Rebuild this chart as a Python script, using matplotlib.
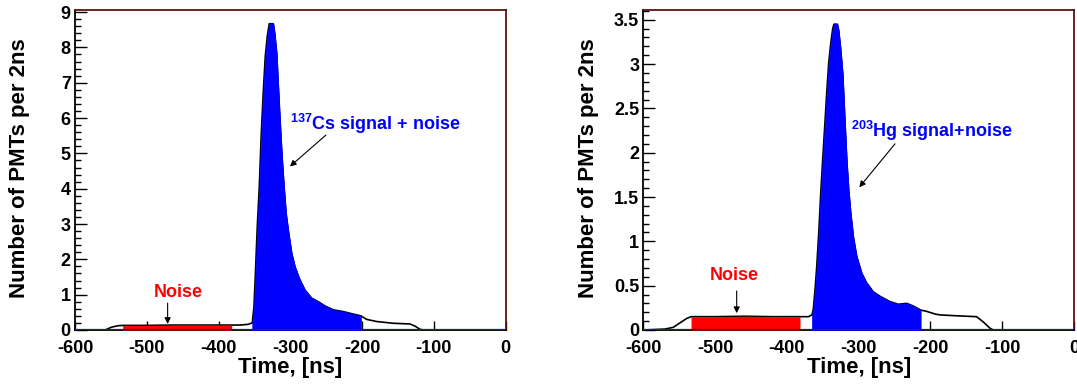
import numpy as np
import matplotlib.pyplot as plt
from matplotlib.ticker import MultipleLocator, FormatStrFormatter

plt.rcParams['font.family'] = ['Liberation Sans', 'DejaVu Sans']
plt.rcParams['font.weight'] = 'bold'
plt.rcParams['axes.unicode_minus'] = False
plt.rcParams['mathtext.fontset'] = 'custom'
plt.rcParams['mathtext.rm'] = 'Liberation Sans:bold'
plt.rcParams['mathtext.it'] = 'Liberation Sans:bold'
plt.rcParams['mathtext.bf'] = 'Liberation Sans:bold'

# 137Cs run: time [ns] vs number of PMTs per 2 ns
cs_time = np.array([-600, -558, -549, -540, -533.5, -500, -460, -420, -381.7, -370,
                    -358.6, -353.0, -350.6, -348.8, -346.0, -343.2, -340.4, -337.7,
                    -334.9, -332.1, -329.3, -323.7, -321.8, -319.0, -317.2, -314.4,
                    -311.6, -308.8, -306.0, -302.3, -298.1, -293.5, -287.5, -279.6,
                    -270.2, -261.0, -251.7, -240.1, -226.2, -212.3, -201.6, -193.7,
                    -179.7, -156.6, -133.3, -126.3, -119.4, -114.8, 0])
cs_count = np.array([0, 0, 0.08, 0.12, 0.13, 0.13, 0.14, 0.14, 0.14, 0.14,
                     0.16, 0.2, 0.66, 1.51, 2.93, 4.06, 5.57, 6.71,
                     7.74, 8.31, 8.67, 8.67, 8.40, 7.84, 7.08, 5.95,
                     4.91, 4.06, 3.31, 2.74, 2.17, 1.79, 1.46, 1.13,
                     0.90, 0.80, 0.68, 0.57, 0.52, 0.45, 0.40, 0.30,
                     0.24, 0.19, 0.17, 0.11, 0.02, 0, 0])

# 203Hg run
hg_time = np.array([-600, -570, -558.2, -548.9, -539.5, -533.5, -500, -460, -420, -381.7,
                    -370, -365.0, -363.2, -360.8, -358.4, -355.6, -352.8, -350.1,
                    -347.3, -344.5, -341.7, -338.9, -336.1, -334.3, -329.7, -327.8,
                    -325.0, -322.2, -319.4, -316.6, -313.9, -311.1, -307.4, -302.7,
                    -295.7, -288.8, -279.5, -270.2, -256.3, -244.8, -233.0, -223.8,
                    -213.6, -205.2, -193.6, -186.7, -163.4, -135.6, -126.3, -117.0,
                    -112.4, 0])
hg_count = np.array([0, 0.01, 0.03, 0.08, 0.13, 0.15, 0.15, 0.155, 0.15, 0.15,
                     0.15, 0.17, 0.23, 0.45, 0.71, 1.09, 1.54, 1.92,
                     2.29, 2.67, 3.01, 3.23, 3.40, 3.45, 3.45, 3.38,
                     3.16, 2.89, 2.40, 1.92, 1.58, 1.32, 1.05, 0.83,
                     0.64, 0.53, 0.43, 0.38, 0.32, 0.29, 0.30, 0.27,
                     0.225, 0.21, 0.18, 0.17, 0.16, 0.15, 0.09, 0.02,
                     0, 0])

noise_win = (-533.5, -381.7)
cs_signal_win = (-353.0, -201.6)
hg_signal_win = (-365.0, -213.6)

fig = plt.figure(figsize=(10.77, 3.85), dpi=100)
ax1 = fig.add_axes([0.0696, 0.1429, 0.3999, 0.8312])
ax2 = fig.add_axes([0.5973, 0.1429, 0.3999, 0.8312])


def draw_panel(ax, t, n, sig_win, ymax, ymajor, yminor):
    ax.plot(t, n, color='black', lw=1.2, zorder=2)
    m = (t >= noise_win[0]) & (t <= noise_win[1])
    ax.fill_between(t, 0, n, where=m, color='#ff0000', lw=0, zorder=3)
    m = (t >= sig_win[0]) & (t <= sig_win[1])
    ax.fill_between(t, 0, n, where=m, color='#0000ff', lw=0.5, edgecolor='#0000ff', zorder=3)
    ax.axhline(0, color='#1a1aa0', lw=1.6, zorder=4)

    ax.set_xlim(-600, 0)
    ax.set_ylim(0, ymax)
    ax.xaxis.set_major_locator(MultipleLocator(100))
    ax.yaxis.set_major_locator(MultipleLocator(ymajor))
    ax.yaxis.set_minor_locator(MultipleLocator(yminor))
    ax.yaxis.set_major_formatter(FormatStrFormatter('%g'))
    ax.tick_params(axis='x', direction='in', length=6.7, width=1, pad=7,
                   labelsize=13, top=False)
    ax.tick_params(axis='y', which='major', direction='in', length=8.4, width=1,
                   pad=3, labelsize=13, right=False)
    ax.tick_params(axis='y', which='minor', direction='in', length=4.3, width=1,
                   right=False)
    for lab in ax.get_xticklabels():
        lab.set_fontweight('bold')
    for lab in ax.get_yticklabels():
        lab.set_fontweight('bold')
        lab.set_verticalalignment('center_baseline')
    for s in ['left', 'bottom']:
        ax.spines[s].set_color('black')
        ax.spines[s].set_linewidth(1.3)
    for s in ['top', 'right']:
        ax.spines[s].set_color('#5a1414')
        ax.spines[s].set_linewidth(1.3)

    ax.set_xlabel('Time, [ns]', fontsize=16, fontweight='bold', labelpad=0)
    ax.set_ylabel('Number of PMTs per 2ns', fontsize=16, fontweight='bold')
    ax.yaxis.set_label_coords(-0.104, 0.505)


def arrow(ax, start, end):
    ax.annotate('', xy=end, xytext=start,
                arrowprops=dict(arrowstyle='-|>', color='black', lw=0.8,
                                mutation_scale=9, shrinkA=0, shrinkB=0),
                zorder=5)


draw_panel(ax1, cs_time, cs_count, cs_signal_win, 9.06, 1, 0.2)
ax1.text(-456, 1.06, 'Noise', color='#ff0000', fontsize=13, fontweight='bold',
         ha='center', va='center')
arrow(ax1, (-470.9, 0.76), (-470.9, 0.17))
ax1.text(-300.5, 5.84, r'$^{137}$Cs signal + noise', color='#0000ff', fontsize=13,
         fontweight='bold', ha='left', va='center')
arrow(ax1, (-250.3, 5.52), (-300.5, 4.63))

draw_panel(ax2, hg_time, hg_count, hg_signal_win, 3.61, 0.5, 0.1)
ax2.text(-473.2, 0.62, 'Noise', color='#ff0000', fontsize=13, fontweight='bold',
         ha='center', va='center')
arrow(ax2, (-469.9, 0.44), (-469.9, 0.19))
ax2.text(-311.1, 2.25, r'$^{203}$Hg signal+noise', color='#0000ff', fontsize=13,
         fontweight='bold', ha='left', va='center')
arrow(ax2, (-249.3, 2.10), (-299.1, 1.61))

fig.savefig('out.png', dpi=100)
